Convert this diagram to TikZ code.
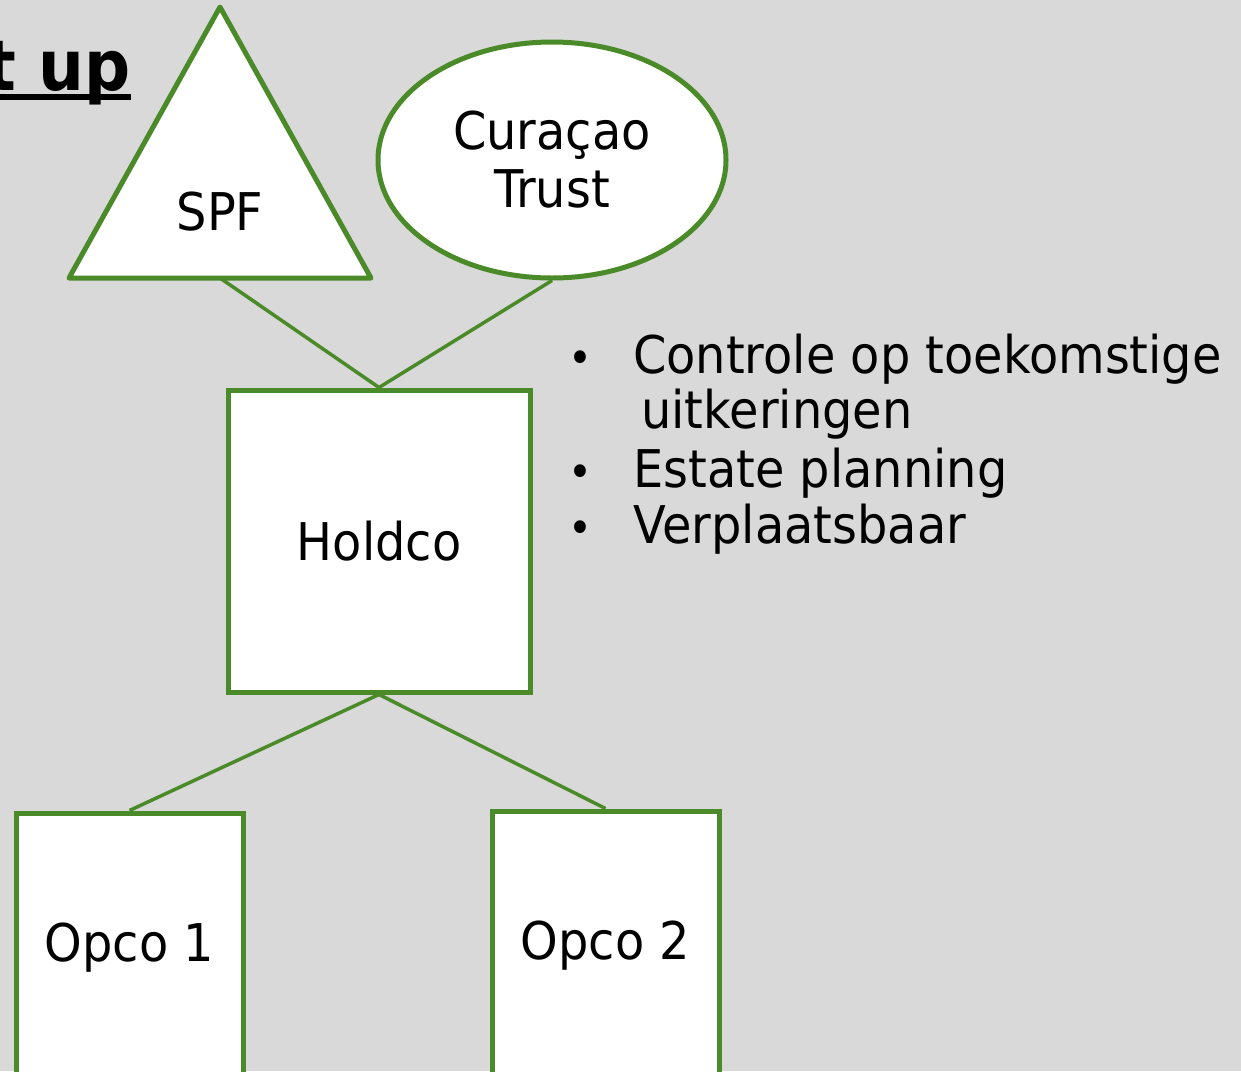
\documentclass[tikz,border=0pt]{standalone}
\usepackage{fontspec}
\setmainfont{DejaVu Sans}[FakeStretch=0.92]
\usetikzlibrary{shapes.geometric}
\definecolor{bg}{RGB}{217,217,217}
\definecolor{grn}{RGB}{75,138,40}
\begin{document}
\begin{tikzpicture}[x=1pt,y=-1pt,
  box/.style={draw=grn,line width=5pt,fill=white,inner sep=0pt},
  link/.style={draw=grn,line width=3.5pt},
  lbl/.style={font=\fontsize{52}{58}\selectfont,text=black},
  itemtxt/.style={lbl,anchor=base west,inner sep=0pt},
  bul/.style={font=\fontsize{44}{50}\selectfont,anchor=base,inner sep=0pt}
  ]
\fill[bg] (0,0) rectangle (1241,1071);
\useasboundingbox (0,0) rectangle (1241,1071);
% title (cut at left edge)
\begin{scope}
\clip (0,0) rectangle (1241,1071);
\node[anchor=base east, font=\fontsize{70}{76}\selectfont\bfseries, inner sep=0pt] (title) at (131,90) {t up};
\fill (0,94) rectangle (131,100);
\end{scope}
% SPF triangle
\coordinate (spfA) at (220,7);
\coordinate (spfL) at (69,278);
\coordinate (spfR) at (371,278);
\coordinate (spfB) at (220,278);
\filldraw[fill=white,draw=grn,line width=5pt,line join=round] (spfA) -- (spfL) -- (spfR) -- cycle;
\node[lbl,anchor=base] (spf) at (220,230) {SPF};
% trust
\node[box,ellipse,minimum width=348pt,minimum height=236pt,lbl,align=center] (trust) at (552,160) {Curaçao\\Trust};
% holdco and opcos
\node[box,minimum width=302pt,minimum height=302pt,lbl] (holdco) at (379,541) {Holdco};
\node[box,minimum width=227pt,minimum height=270pt,lbl] (opco1) at (129.5,948) {Opco 1};
\node[box,minimum width=227pt,minimum height=270pt,lbl] (opco2) at (605.5,946) {Opco 2};
% links
\draw[link] (spfB) -- (holdco.north);
\draw[link] (trust.south) -- (holdco.north);
\draw[link] (holdco.south) -- (opco1.north);
\draw[link] (holdco.south) -- (opco2.north);
% bullet list
\node[bul] (d1) at (580,373) {•};
\node[bul] (d2) at (580,487) {•};
\node[bul] (d3) at (580,543) {•};
\node[itemtxt] (t1) at (633,373) {Controle op toekomstige};
\node[itemtxt] (t1b) at (641,428) {uitkeringen};
\node[itemtxt] (t2) at (633,487) {Estate planning};
\node[itemtxt] (t3) at (633,543) {Verplaatsbaar};
\end{tikzpicture}
\end{document}
